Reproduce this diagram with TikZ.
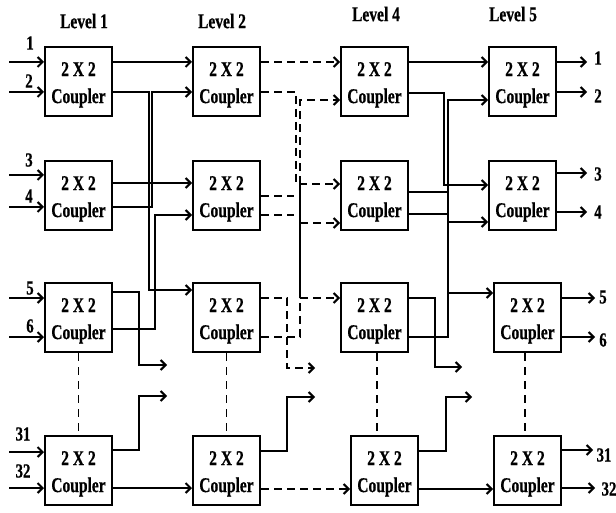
\documentclass[tikz,border=0pt]{standalone}
\usepackage{fontspec}
\setmainfont{Liberation Serif}[FakeStretch=0.74,FakeBold=0.6]
\usetikzlibrary{arrows.meta}
\newcommand\cpltext{\rule{0pt}{20.6pt}2 X 2\\Coupler}
\begin{document}
\begin{tikzpicture}[x=1pt,y=-1pt,
  wire/.style={line width=2.1pt},
  flow/.style={wire,-{Straight Barb[length=5pt,width=10pt]}},
  gap/.style={wire,dash pattern=on 8pt off 5pt},
  gapflow/.style={gap,-{Straight Barb[length=5pt,width=10pt]}},
  link/.style={line width=1.3pt,dash pattern=on 8pt off 6pt},
  coupler/.style={draw,line width=2pt,minimum width=67pt,minimum height=69pt,
    inner sep=0pt,align=center,font=\fontsize{21}{27}\selectfont\bfseries},
  tag/.style={font=\fontsize{20}{22}\selectfont\bfseries,inner sep=0pt},
  lev/.style={font=\fontsize{21}{24}\selectfont\bfseries,inner sep=0pt}]
\useasboundingbox (0,0) rectangle (616,513);

% column headings
\node[lev] (L1) at (84,21) {Level 1};
\node[lev] (L2) at (222,21) {Level 2};
\node[lev] (L4) at (376,14) {Level 4};
\node[lev] (L5) at (513,14) {Level 5};

% couplers
\node[coupler] (A1) at (78.5,81.5) {\cpltext};
\node[coupler] (A2) at (78.5,195.5) {\cpltext};
\node[coupler] (A3) at (78.5,317.5) {\cpltext};
\node[coupler] (A4) at (78.5,470.5) {\cpltext};
\node[coupler] (B1) at (226.5,81.5) {\cpltext};
\node[coupler] (B2) at (226.5,195.5) {\cpltext};
\node[coupler] (B3) at (226.5,317.5) {\cpltext};
\node[coupler] (B4) at (226.5,470.5) {\cpltext};
\node[coupler] (C1) at (374.5,81.5) {\cpltext};
\node[coupler] (C2) at (374.5,195.5) {\cpltext};
\node[coupler] (C3) at (374.5,317.5) {\cpltext};
\node[coupler] (C4) at (384.5,470.5) {\cpltext};
\node[coupler] (D1) at (522.5,81.5) {\cpltext};
\node[coupler] (D2) at (522.5,195.5) {\cpltext};
\node[coupler] (D3) at (527.5,317.5) {\cpltext};
\node[coupler] (D4) at (527.5,470.5) {\cpltext};

% elided couplers between the third and last rows
\draw[link] (A3.south) -- (A4.north);
\draw[link] (B3.south) -- (B4.north);
\draw[link] ([xshift=2.5pt]C3.south) -- ([xshift=2.5pt]C3.south |- C4.north);
\draw[link] ([xshift=-2.5pt]D3.south) -- ([xshift=-2.5pt]D3.south |- D4.north);

% input ports
\coordinate (i1) at (9,62);   \coordinate (i2) at (9,92);
\coordinate (i3) at (9,175);  \coordinate (i4) at (9,207);
\coordinate (i5) at (9,298);  \coordinate (i6) at (9,337);
\coordinate (i31) at (9,452); \coordinate (i32) at (9,488);
\draw[flow] (i1) -- (A1.west |- i1);
\draw[flow] (i2) -- (A1.west |- i2);
\draw[flow] (i3) -- (A2.west |- i3);
\draw[flow] (i4) -- (A2.west |- i4);
\draw[flow] (i5) -- (A3.west |- i5);
\draw[flow] (i6) -- (A3.west |- i6);
\draw[flow] (i31) -- (A4.west |- i31);
\draw[flow] (i32) -- (A4.west |- i32);
\node[tag] (n1) at (30,43) {1};
\node[tag] (n2) at (29,81) {2};
\node[tag] (n3) at (29,160) {3};
\node[tag] (n4) at (29,196) {4};
\node[tag] (n5) at (30,288) {5};
\node[tag] (n6) at (30,326) {6};
\node[tag] (n31) at (23,434) {31};
\node[tag] (n32) at (23,471) {32};

% level 1 -> level 2
\coordinate (e1) at (167,365); \coordinate (e2) at (167,396);
\draw[flow] (A1.east |- 0,62) -- (B1.west |- 0,62);
\draw[flow] (A1.east |- 0,92) -- (149,92) -- (149,290) -- (B3.west |- 0,290);
\draw[flow] (A2.east |- 0,207) -- (152,207) -- (152,92) -- (B1.west |- 0,92);
\draw[flow] (A2.east |- 0,183) -- (B2.west |- 0,183);
\draw[flow] (A3.east |- 0,329) -- (155,329) -- (155,215) -- (B2.west |- 0,215);
\draw[flow] (A3.east |- 0,292) -- (139,292) -- (139,365) -- (e1);
\draw[flow] (A4.east |- 0,450) -- (139,450) -- (139,396) -- (e2);
\draw[flow] (A4.east |- 0,488) -- (B4.west |- 0,488);

% level 2 -> level 4 (level 3 elided)
\coordinate (j1) at (300,100); \coordinate (j2) at (300,184);
\coordinate (j3) at (300,223); \coordinate (j4) at (300,298);
\coordinate (j5) at (300,337);
\coordinate (e3) at (315,368); \coordinate (e4) at (315,397);
\draw[gapflow] (B1.east |- 0,62) -- (C1.west |- 0,62);
\draw[gapflow] (B1.east |- 0,92) -- (296,92) -- (296,184) -- (C2.west |- j2);
\draw[gap] (B3.east |- j5) -- (j5) -- (j4);
\draw[wire] (j4) -- (j2);
\draw[gapflow] (j2) -- (j1) -- (C1.west |- j1);
\draw[gapflow] (j3) -- (C2.west |- j3);
\draw[gapflow] (j4) -- (C3.west |- j4);
\draw[gap] (B2.east |- 0,196) -- (294,196);
\draw[gap] (B2.east |- 0,215) -- (294,215);
\draw[gapflow] (B3.east |- 0,298) -- (287,298) -- (287,368) -- (e3);
\draw[flow] (B4.east |- 0,451) -- (287,451) -- (287,397) -- (e4);
\draw[gapflow] (B4.east |- 0,489) -- (C4.west |- 0,489);

% level 4 -> level 5
\coordinate (e5) at (462,367); \coordinate (e6) at (472,397);
\draw[flow] (C1.east |- 0,62) -- (D1.west |- 0,62);
\draw[flow] (C1.east |- 0,93) -- (444,93) -- (444,185) -- (D2.west |- 0,185);
\draw[wire] (C2.east |- 0,192) -- (448,192);
\draw[wire] (C2.east |- 0,214) -- (448,214);
\draw[flow] (C3.east |- 0,337) -- (448,337) -- (448,100) -- (D1.west |- 0,100);
\draw[flow] (448,222) -- (D2.west |- 0,222);
\draw[flow] (448,293) -- (D3.west |- 0,293);
\draw[flow] (C3.east |- 0,298) -- (435,298) -- (435,367) -- (e5);
\draw[flow] (C4.east |- 0,451) -- (446,451) -- (446,397) -- (e6);
\draw[flow] (C4.east |- 0,489) -- (D4.west |- 0,489);

% output ports
\coordinate (o1) at (587,62);   \coordinate (o2) at (587,92);
\coordinate (o3) at (587,173);  \coordinate (o4) at (587,212);
\coordinate (o5) at (595,298);  \coordinate (o6) at (595,337);
\coordinate (o31) at (593,450); \coordinate (o32) at (595,488);
\draw[flow] (D1.east |- o1) -- (o1);
\draw[flow] (D1.east |- o2) -- (o2);
\draw[flow] (D2.east |- o3) -- (o3);
\draw[flow] (D2.east |- o4) -- (o4);
\draw[flow] (D3.east |- o5) -- (o5);
\draw[flow] (D3.east |- o6) -- (o6);
\draw[flow] (D4.east |- o31) -- (o31);
\draw[flow] (D4.east |- o32) -- (o32);
\node[tag] (m1) at (598,58) {1};
\node[tag] (m2) at (598,96) {2};
\node[tag] (m3) at (598,174) {3};
\node[tag] (m4) at (598,212) {4};
\node[tag] (m5) at (603,297) {5};
\node[tag] (m6) at (603,340) {6};
\node[tag] (m31) at (604,455) {31};
\node[tag] (m32) at (609,489) {32};
\end{tikzpicture}
\end{document}
